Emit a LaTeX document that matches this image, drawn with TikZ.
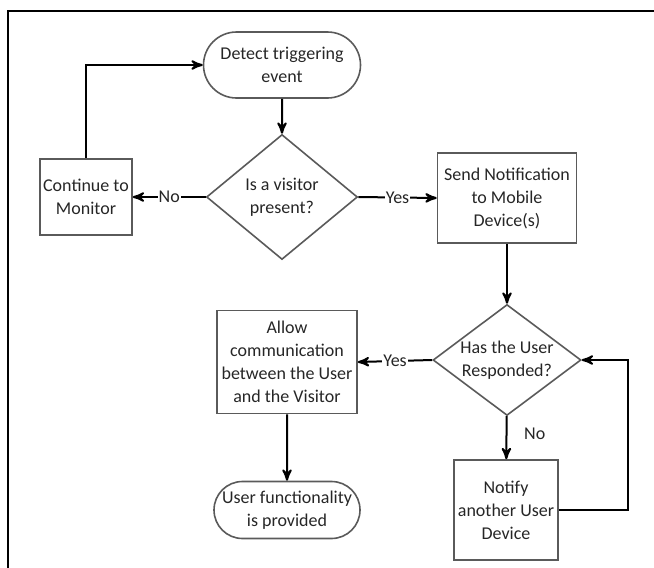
\documentclass[tikz,border=0pt]{standalone}
\usepackage{fontspec}
\setmainfont{Carlito}
\usetikzlibrary{arrows,shapes.geometric,shapes.misc}
\definecolor{edgegray}{HTML}{5A5A5A}
\definecolor{txtgray}{HTML}{262626}
\tikzset{
    >=stealth',
    term/.style={
           rounded rectangle,
           draw=edgegray, thick,
           text=txtgray,
           align=center,
           inner sep=1pt},
    proc/.style={
           rectangle,
           draw=edgegray, thick,
           text=txtgray,
           align=center,
           inner sep=1pt},
    ask/.style={
           diamond,
           draw=edgegray, thick,
           text=txtgray,
           align=center,
           inner sep=0pt},
    pil/.style={
           ->,
           line width=1pt},
    lbl/.style={
           fill=white,
           text=txtgray,
           inner sep=0.5pt}
}

\begin{document}
\begin{tikzpicture}[x=0.5pt, y=-0.5pt, font=\fontsize{9}{11.5}\selectfont]
        \useasboundingbox (0,0) rectangle (654,568);
        % frame of the scanned figure
        \draw[line width=1pt] (8,568) -- (8,11) -- (654,11);
        \node[term, minimum width=80.5pt, minimum height=33pt] (detect) at (282,65) {Detect triggering\\event};
        \node[ask, aspect=1.2, minimum width=75.5pt, minimum height=62.5pt] (visitor) at (282,197) {Is a visitor\\present?};
        \node[proc, minimum width=46pt, minimum height=38pt] (monitor) at (86,197) {Continue to\\Monitor};
        \node[proc, minimum width=69.5pt, minimum height=45pt] (send) at (507,198) {Send Notification\\to Mobile\\Device(s)};
        \node[ask, aspect=1.4, minimum width=74pt, minimum height=55.5pt] (responded) at (507,360) {Has the User\\Responded?};
        \node[proc, minimum width=70pt, minimum height=51.5pt] (allow) at (287,362) {Allow\\communication\\between the User\\and the Visitor};
        \node[term, minimum width=75pt, minimum height=28.5pt] (provided) at (287,510) {User functionality\\is provided};
        \node[proc, minimum width=52pt, minimum height=50pt] (notify) at (506,510) {Notify\\another User\\Device};
        \coordinate (loop) at (628,510);
        \draw[pil] (detect) -- (visitor);
        \draw[pil] (visitor) -- node[lbl] {No} (monitor);
        \draw[pil] (monitor.north) |- (detect.west);
        \draw[pil] (visitor.east) -- node[lbl] {Yes} (send.west);
        \draw[pil] (send) -- (responded);
        \draw[pil] (responded.west) -- node[lbl] {Yes} (allow.east);
        \draw[pil] (allow) -- (provided);
        \draw[pil] (responded) -- node[right=5pt, pos=0.4, text=txtgray] {No} (notify);
        \draw[pil] (notify.east |- loop) -- (loop) |- (responded.east);
    \end{tikzpicture}
\end{document}
